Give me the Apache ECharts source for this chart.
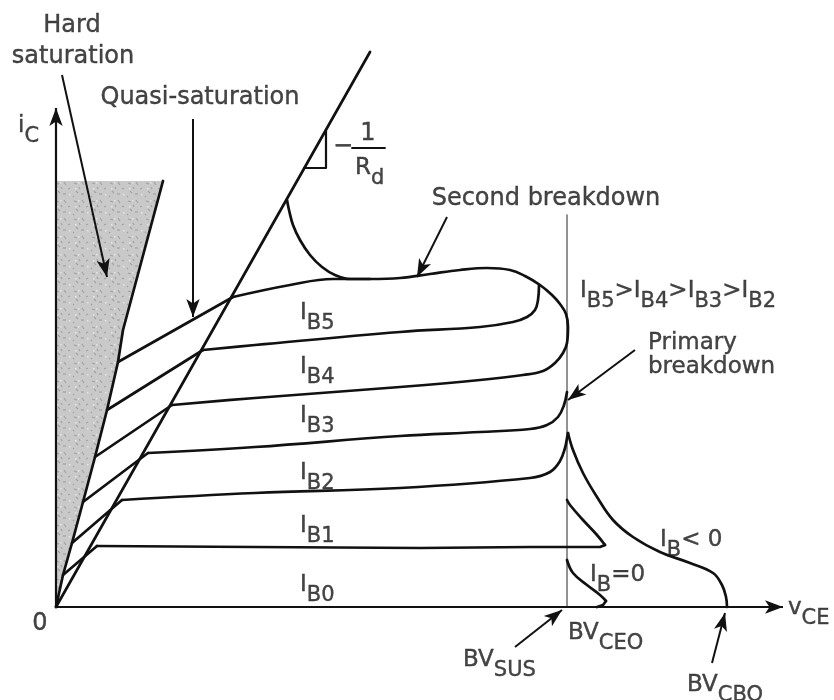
<!DOCTYPE html>
<html>
<head>
<meta charset="utf-8">
<title>BJT output characteristics</title>
<script src="https://cdn.jsdelivr.net/npm/echarts@6/dist/echarts.min.js"></script>
<style>
  html, body { margin: 0; padding: 0; background: #ffffff; }
  #chart { width: 834px; height: 700px; }
</style>
</head>
<body>
<div id="chart"></div>
<script>
// Schematic i_C versus v_CE characteristics of a power BJT.
// Units are arbitrary: x is v_CE, y is i_C, both measured from the origin.

// Axes extents
const vceAxis = [[0, 0], [727, 0]];
const icAxis = [[0, 0], [0, 499]];

// Hard-saturation region (shaded) and its boundary
const hardSatRegion = [[0, 0], [0, 426], [107, 426], [67, 277], [62, 245], [51, 197], [39, 150], [27, 105], [16, 64], [7, 32]];
const hardSatEdge = [[107, 426], [67, 277], [62, 245], [51, 197], [39, 150], [27, 105], [16, 64], [7, 32], [0, 0]];

// Quasi-saturation boundary with slope -1/R_d
const rdLine = [[0, 0], [314, 555]];
const rdTriangle = [[248, 439], [270, 439], [270, 477]];
const rdFractionBar = [[296, 459], [329, 459]];

// BV_CEO vertical reference
const bvceoLine = [[511, 0], [511, 392]];

// Base-current curves, top to bottom
const curveTopLoop = [[62, 245], [177, 310], [234, 322], [277, 328], [314, 328], [344, 329], [374, 333], [404, 337], [431, 339], [454, 337], [469, 331], [484, 322], [496, 312], [504, 303], [510, 293], [512, 280], [511, 264], [507, 254], [499, 244], [487, 236], [467, 232], [424, 227], [344, 220], [199, 209], [116, 202], [39, 150]];
const curveIB5 = [[51, 197], [147, 257], [199, 262], [344, 275], [424, 280], [457, 285], [471, 290], [479, 297], [482, 307], [483, 322]];
const curveIB3 = [[27, 105], [92, 154], [199, 160], [344, 171], [424, 175], [474, 178], [491, 182], [502, 190], [508, 202], [511, 215]];
const curveIB2 = [[16, 64], [66, 107], [199, 114], [344, 119], [474, 129], [494, 135], [504, 146], [509, 159], [511, 169], [512, 174], [517, 157], [527, 134], [541, 110], [557, 87], [577, 70], [604, 55], [634, 44], [657, 34], [666, 22], [670, 10], [671, 0]];
const curveIB1 = [[7, 32], [41, 61], [199, 60], [364, 59], [474, 60], [544, 60], [549, 62], [541, 72], [527, 87], [514, 102], [511, 107]];
const curveIB0 = [[511, 47], [517, 34], [531, 22], [544, 12], [550, 6], [547, 2], [541, 0]];
const secondBreakdown = [[231, 407], [233, 397], [237, 382], [244, 367], [254, 352], [266, 340], [279, 332], [294, 328], [314, 328]];

// How each curve is stroked: [first index, last index, smoothed?]
const curvePieces = [
  [curveTopLoop, [[0, 1, false], [1, 24, true], [24, 25, false]]],
  [curveIB5, [[0, 1, false], [1, 9, true]]],
  [curveIB3, [[0, 1, false], [1, 9, true]]],
  [curveIB2, [[0, 1, false], [1, 9, true], [9, 20, true]]],
  [curveIB1, [[0, 1, false], [1, 6, false], [6, 10, true]]],
  [curveIB0, [[0, 4, true], [4, 6, false]]],
  [secondBreakdown, [[0, 8, true]]]
];

// Annotation pointers: [from, to]
const pointerArrows = [
  [[6, 532], [51, 330]],
  [[137, 488], [137, 290]],
  [[391, 390], [361, 330]],
  [[579, 257], [512, 207]],
  [[459, -40], [506, -3]],
  [[656, -56], [669, -6]]
];

// Plain centred labels: [text, x, y]
const plainLabels = [
  ['Hard', 16, 581],
  ['saturation', 17, 550],
  ['Quasi-saturation', 144, 509],
  ['Second breakdown', 490, 408],
  ['0', -16, -17],
  ['\u2212', 287, 460],
  ['1', 312, 473]
];

// Left-aligned labels with subscripts: [rich text, x, y]
const subLabels = [
  ['{m|i}{s|C}', -38, 485],
  ['{m|R}{s|d}', 299, 443],
  ['{m|I}{s|B5}', 244, 298],
  ['{m|I}{s|B4}', 244, 244],
  ['{m|I}{s|B3}', 244, 195],
  ['{m|I}{s|B2}', 244, 138],
  ['{m|I}{s|B1}', 244, 85],
  ['{m|I}{s|B0}', 244, 26],
  ['{m|I}{s|B5}{m|>I}{s|B4}{m|>I}{s|B3}{m|>I}{s|B2}', 524, 320],
  ['{m|Primary}\n{m|breakdown}', 592, 256],
  ['{m|I}{s|B}{m|< 0}', 604, 71],
  ['{m|I}{s|B}{m|=0}', 534, 36],
  ['{m|v}{s|CE}', 732, 3],
  ['{m|BV}{s|CEO}', 512, -22],
  ['{m|BV}{s|SUS}', 407, -49],
  ['{m|BV}{s|CBO}', 631, -74]
];

const FONT = '"DejaVu Sans", sans-serif';
const INK = '#111111';
const TEXT = '#161616';

const rich = {
  m: { fontFamily: FONT, fontSize: 23, lineHeight: 24, verticalAlign: 'top', color: TEXT, textBorderColor: TEXT, textBorderWidth: 0.4 },
  s: { fontFamily: FONT, fontSize: 21, lineHeight: 21, padding: [12, 0, 0, 0], verticalAlign: 'top', color: TEXT, textBorderColor: TEXT, textBorderWidth: 0.4 }
};

// Fixed speckle tile for the shaded region
function speckleTile() {
  const c = document.createElement('canvas');
  c.width = 18; c.height = 18;
  const g = c.getContext('2d');
  g.fillStyle = '#c9c9c9';
  g.fillRect(0, 0, 18, 18);
  g.strokeStyle = '#a2a2a2';
  g.lineWidth = 1.2;
  const marks = [[2, 3, 5, 4], [10, 2, 12, 5], [14, 9, 16, 8], [4, 11, 6, 13], [9, 14, 12, 14], [1, 16, 2, 17], [7, 7, 8, 9]];
  marks.forEach(m => { g.beginPath(); g.moveTo(m[0], m[1]); g.lineTo(m[2], m[3]); g.stroke(); });
  g.fillStyle = '#e6e6e6';
  [[6, 2], [15, 14], [3, 8]].forEach(p => g.fillRect(p[0], p[1], 1.5, 1.5));
  return c;
}

function stroke(data, width, color, smooth) {
  return {
    type: 'line', data: data, symbol: 'none', showSymbol: false, silent: true,
    clip: false, animation: false, z: 3, smooth: smooth ? 0.4 : false,
    lineStyle: { color: color || INK, width: width || 2.7, cap: 'round', join: 'round' }
  };
}

function arrowSeries(pairs, width, size) {
  return {
    type: 'line', data: [], silent: true, animation: false, z: 4,
    markLine: {
      silent: true, animation: false, precision: 4,
      symbol: ['none', 'arrow'], symbolSize: size,
      label: { show: false },
      lineStyle: { color: INK, width: width, type: 'solid' },
      emphasis: { disabled: true },
      data: pairs.map(p => [{ coord: p[0] }, { coord: p[1] }])
    }
  };
}

const curveSeries = [];
curvePieces.forEach(([pts, pieces]) => {
  pieces.forEach(([a, b, sm]) => curveSeries.push(stroke(pts.slice(a, b + 1), 2.7, INK, sm)));
});

const chart = echarts.init(document.getElementById('chart'), null, { renderer: 'canvas' });
const tile = speckleTile();

chart.setOption({
  backgroundColor: '#ffffff',
  animation: false,
  grid: { left: 0, right: 0, top: 0, bottom: 0 },
  xAxis: { type: 'value', min: -56, max: 778, show: false },
  yAxis: { type: 'value', min: -93, max: 607, show: false },
  series: [
    {
      type: 'custom', silent: true, animation: false, z: 1, clip: false,
      data: [hardSatRegion[0]],
      renderItem: function (params, api) {
        return {
          type: 'polygon',
          shape: { points: hardSatRegion.map(p => api.coord(p)) },
          style: { fill: { image: tile, repeat: 'repeat' } }
        };
      }
    },
    stroke(bvceoLine, 1.6, '#777777'),
    stroke(hardSatEdge),
    stroke(rdLine),
    stroke(rdTriangle, 2.2),
    stroke(rdFractionBar, 1.8),
    ...curveSeries,
    arrowSeries([vceAxis, icAxis], 2.2, [10, 18]),
    arrowSeries(pointerArrows, 2, [10, 18]),
    {
      type: 'scatter', symbolSize: 0, silent: true, animation: false, clip: false, z: 5,
      data: plainLabels.map(l => ({ name: l[0], value: [l[1], l[2]] })),
      label: {
        show: true, position: 'inside', align: 'center', verticalAlign: 'middle',
        formatter: p => p.name, fontFamily: FONT, fontSize: 24, color: TEXT,
        textBorderColor: TEXT, textBorderWidth: 0.4
      }
    },
    {
      type: 'scatter', symbolSize: 0, silent: true, animation: false, clip: false, z: 5,
      data: subLabels.map(l => ({ name: l[0], value: [l[1], l[2]] })),
      label: {
        show: true, position: 'inside', align: 'left', verticalAlign: 'middle',
        offset: [0, 4.5], formatter: p => p.name, rich: rich,
        fontFamily: FONT, fontSize: 23, color: TEXT
      }
    }
  ]
});
</script>
</body>
</html>
